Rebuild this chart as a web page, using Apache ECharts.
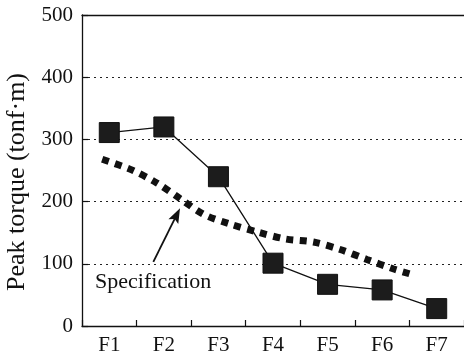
<!DOCTYPE html>
<html>
<head>
<meta charset="utf-8">
<script src="https://cdn.jsdelivr.net/npm/echarts@6/dist/echarts.min.js"></script>
<style>
html,body{margin:0;padding:0;background:#fff;}
#c{width:464px;height:356px;}
</style>
</head>
<body>
<div id="c"></div>
<script>
const categories = ['F1','F2','F3','F4','F5','F6','F7'];
const peakTorque = [311, 320, 240, 101, 67, 58, 28];
// specification curve: [position in category bands (0..7), value]
const specX = [0.37, 0.91, 1.37, 1.81, 2.24, 2.71, 3.22, 3.72, 4.24, 4.73, 5.22, 5.70, 6.0];
const specY = [268, 251, 230, 204, 179, 164, 151, 140, 135, 123, 107, 92, 84];
const yTicks = [0, 100, 200, 300, 400, 500];
const annotationText = 'Specification';
const arrowTail = [1.307, 103];
const arrowTip = [1.796, 189.5];
const textAnchor = [0.24, 71];

const FONT = '"Liberation Serif", "DejaVu Serif", serif';
const chart = echarts.init(document.getElementById('c'));
const option = {
  animation: false,
  backgroundColor: '#fff',
  grid: {left: 82, top: 15, right: 0, bottom: 28, containLabel: false},
  xAxis: [{
    type: 'category',
    data: categories,
    position: 'bottom',
    axisLine: {show: true, lineStyle: {color: '#111', width: 1.3}},
    axisTick: {show: true, inside: true, length: 6, lineStyle: {color: '#111', width: 1.2}},
    axisLabel: {color: '#111', fontFamily: FONT, fontSize: 21, margin: 9},
    splitLine: {show: false}
  }, {
    type: 'value',
    position: 'top',
    min: 0, max: 7,
    axisLine: {show: true, onZero: false, lineStyle: {color: '#111', width: 1.3}},
    axisTick: {show: false},
    axisLabel: {show: false},
    splitLine: {show: false}
  }],
  yAxis: {
    type: 'value',
    min: yTicks[0], max: yTicks[yTicks.length - 1], interval: 100,
    axisLine: {show: true, lineStyle: {color: '#111', width: 1.3}},
    axisTick: {show: true, inside: true, length: 6, lineStyle: {color: '#111', width: 1.2}},
    axisLabel: {color: '#111', fontFamily: FONT, fontSize: 21, margin: 9},
    splitLine: {show: true, lineStyle: {color: '#222', width: 1, type: [2, 4]}}
  },
  series: [{
    type: 'line',
    xAxisIndex: 1,
    data: specX.map((x, i) => [x, specY[i]]),
    smooth: 0.3,
    symbol: 'none',
    lineStyle: {color: '#111', width: 7, type: [7, 6.5], cap: 'butt'},
    z: 2
  }, {
    type: 'line',
    xAxisIndex: 0,
    data: peakTorque,
    symbol: 'rect',
    symbolSize: 20,
    itemStyle: {color: '#1c1c1c', borderColor: '#111', borderWidth: 1},
    lineStyle: {color: '#111', width: 1.3},
    z: 3
  }]
};
chart.setOption(option);

function px(p) { return chart.convertToPixel({xAxisIndex: 1, yAxisIndex: 0}, p); }
const t = px(arrowTail), h = px(arrowTip);
const dx = h[0] - t[0], dy = h[1] - t[1];
const len = Math.sqrt(dx * dx + dy * dy);
const ux = dx / len, uy = dy / len;
const headLen = 15, headW = 5.5, notch = 3;
const bx = h[0] - ux * headLen, by = h[1] - uy * headLen;
const nx = -uy, ny = ux;
const nb = [h[0] - ux * (headLen - notch), h[1] - uy * (headLen - notch)];
const tp = px(textAnchor);
chart.setOption({
  graphic: [{
    type: 'line',
    shape: {x1: t[0], y1: t[1], x2: nb[0], y2: nb[1]},
    style: {stroke: '#111', lineWidth: 1.8},
    z: 10
  }, {
    type: 'polygon',
    shape: {points: [h, [bx + nx * headW, by + ny * headW], nb, [bx - nx * headW, by - ny * headW]]},
    style: {fill: '#111'},
    z: 10
  }, {
    type: 'text',
    x: tp[0], y: tp[1],
    style: {text: annotationText, font: '22px ' + FONT, fill: '#111', textVerticalAlign: 'middle', textAlign: 'left'},
    z: 10
  }, {
    type: 'text',
    x: 17, y: 182,
    rotation: Math.PI / 2,
    style: {text: 'Peak torque (tonf\u00b7m)', font: '26px ' + FONT, fill: '#111', textAlign: 'center', textVerticalAlign: 'middle'},
    z: 10
  }]
});
</script>
</body>
</html>
